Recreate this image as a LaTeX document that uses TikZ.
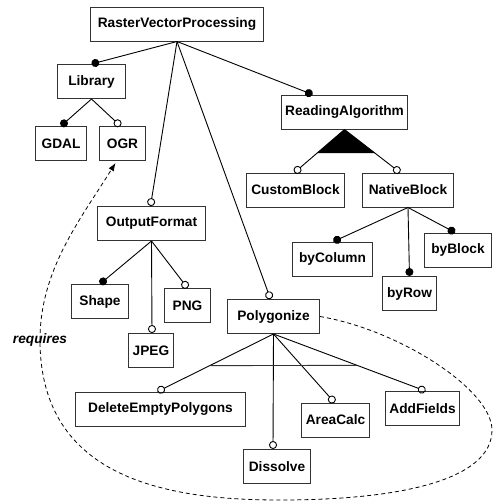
\documentclass[tikz,border=0pt]{standalone}
\usepackage{fontspec}
\setmainfont{Liberation Sans}
\usetikzlibrary{calc}
\usetikzlibrary{arrows.meta}

\begin{document}
\begin{tikzpicture}[x=1pt, y=-1pt,
  feat/.style={draw=black!80, line width=1pt, inner sep=0pt, minimum height=34,
    font=\fontsize{13.7}{16}\selectfont\bfseries},
  mand/.style={line width=.9pt, -{Circle[length=8pt]}},
  opt/.style={line width=.9pt, -{Circle[open,length=8pt]}}]
\useasboundingbox (0,0) rectangle (493,504);

\node[feat, minimum width=173] (root) at (177,24) {RasterVectorProcessing};
\node[feat, minimum width=68] (lib) at (91.5,81.5) {Library};
\node[feat, minimum width=51] (gdal) at (61,143.5) {GDAL};
\node[feat, minimum width=46] (ogr) at (122.5,143.5) {OGR};
\node[feat, minimum width=108] (out) at (151.5,223.5) {OutputFormat};
\node[feat, minimum width=126] (read) at (344.5,112) {ReadingAlgorithm};
\node[feat, minimum width=98] (custom) at (295.5,190) {CustomBlock};
\node[feat, minimum width=91] (native) at (408,190) {NativeBlock};
\node[feat, minimum width=80] (bycol) at (332.5,259) {byColumn};
\node[feat, minimum width=67] (byblock) at (458,250) {byBlock};
\node[feat, minimum width=54] (byrow) at (409.5,293.5) {byRow};
\node[feat, minimum width=92] (poly) at (273.5,316.5) {Polygonize};
\node[feat, minimum width=57] (shape) at (100,301.5) {Shape};
\node[feat, minimum width=46] (png) at (187.5,305.5) {PNG};
\node[feat, minimum width=45] (jpeg) at (151,350.5) {JPEG};
\node[feat, minimum width=170] (dep) at (160.5,409) {DeleteEmptyPolygons};
\node[feat, minimum width=68] (area) at (335.5,420) {AreaCalc};
\node[feat, minimum width=74] (addf) at (422.5,408.5) {AddFields};
\node[feat, minimum width=67] (dissolve) at (277,466.5) {Dissolve};

\foreach \a/\b/\k/\dx in {root/lib/mand/0, lib/gdal/mand/0, lib/ogr/opt/-2, root/out/opt/-1,
    root/poly/opt/-3, root/read/mand/-32, out/shape/mand/0, out/jpeg/opt/1, out/png/opt/0,
    read/custom/opt/-1, read/native/opt/-8, native/bycol/mand/1, native/byrow/mand/0,
    native/byblock/mand/-3, poly/dep/opt/-3, poly/dissolve/opt/-4, poly/area/opt/-1, poly/addf/opt/3}
  \draw[\k] (\a.south) -- ($(\b.north)+(\dx,0)$);

% alternative and or groups
\fill ($(read.south)$) -- ($(read.south)!.55!($(custom.north)+(-1,0)$)$)
  -- ($(read.south)!.55!($(native.north)+(-8,0)$)$) -- cycle;
\draw[black!80, line width=.9pt] ($(poly.south)!.55!($(dep.north)+(-3,0)$)$)
  -- ($(poly.south)!.55!($(addf.north)+(3,0)$)$);

% requires
\node[font=\fontsize{13.7}{16}\selectfont\bfseries\itshape] (req) at (40,340) {requires};
\draw[line width=.8pt, dash pattern=on 4pt off 3pt, -{Latex[length=8pt,width=6pt]}]
  (poly.east) .. controls (400,330) and (492,390) .. (492,430)
  .. controls (492,480) and (400,500) .. (280,500)
  .. controls (170,500) and (40,480) .. (40,340)
  .. controls (40,270) and (80,220) .. ($(ogr.south)+(-7,2)$);

\end{tikzpicture}
\end{document}
